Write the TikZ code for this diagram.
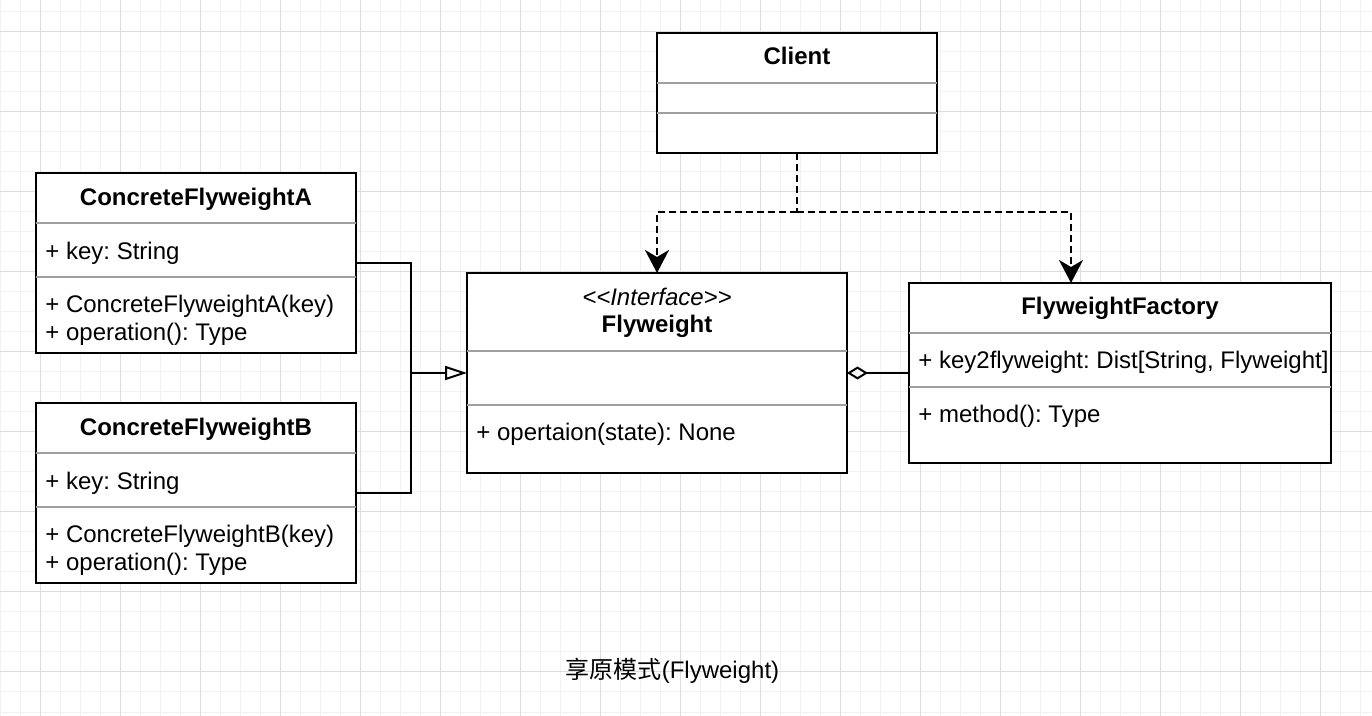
\documentclass[tikz,border=0pt]{standalone}
\usepackage{fontspec}
\setmainfont{Liberation Sans}
\newfontfamily\cjk{Noto Sans CJK SC}
\usetikzlibrary{arrows.meta}
\frenchspacing
\definecolor{gridminor}{HTML}{F2F2F2}
\definecolor{gridmajor}{HTML}{DCDCDC}
\definecolor{sepgray}{HTML}{A0A0A0}
\tikzset{
  umlbox/.style={draw=black, fill=white, line width=1pt, rectangle, inner sep=0pt, outer sep=0pt},
  septxt/.style={draw=sepgray, line width=1pt},
  lbl/.style={inner sep=0pt, anchor=base west, font=\fontsize{12pt}{14pt}\selectfont\frenchspacing},
  ttl/.style={inner sep=0pt, anchor=base, font=\fontsize{12pt}{14pt}\selectfont\bfseries},
  conn/.style={line width=1pt, draw=black},
  dep/.style={conn, dash pattern=on 3.5pt off 2pt},
}
\begin{document}
\begin{tikzpicture}[x=0.5pt,y=-0.5pt]
\useasboundingbox (0,0) rectangle (1372,716);
\fill[white] (0,0) rectangle (1372,716);
% grid
\foreach \x in {0,20,...,1370} \draw[gridminor, line width=0.5pt] (\x,0) -- (\x,716);
\foreach \y in {12,32,...,712} \draw[gridminor, line width=0.5pt] (0,\y) -- (1372,\y);
\foreach \x in {40,120,...,1370} \draw[gridmajor, line width=0.5pt] (\x,0) -- (\x,716);
\foreach \y in {32,112,...,712} \draw[gridmajor, line width=0.5pt] (0,\y) -- (1372,\y);

% boxes
\node[umlbox, minimum width=140pt, minimum height=60pt] (client) at (797,93) {};
\node[umlbox, minimum width=160pt, minimum height=90pt] (ca) at (196,263) {};
\node[umlbox, minimum width=160pt, minimum height=90pt] (cb) at (196,493) {};
\node[umlbox, minimum width=190pt, minimum height=100pt] (fw) at (657,373) {};
\node[umlbox, minimum width=211pt, minimum height=90pt] (factory) at (1120,373) {};

% separators
\foreach \b/\y in {client/83, client/113, ca/223, ca/277, cb/453, cb/507, fw/351, fw/405, factory/333, factory/387}
  \draw[septxt] (\b.west |- 0,\y) -- (\b.east |- 0,\y);

% texts: Client
\node[ttl] (tclient) at (797,65) {Client};
% ConcreteFlyweightA
\node[ttl] (tca) at (196,206) {ConcreteFlyweightA};
\node[lbl] (ca1) at (45,260) {+ key: String};
\node[lbl] (ca2) at (45,313) {+ ConcreteFlyweightA(key)};
\node[lbl] (ca3) at (45,341) {+ operation(): Type};
% ConcreteFlyweightB
\node[ttl] (tcb) at (196,436) {ConcreteFlyweightB};
\node[lbl] (cb1) at (45,490) {+ key: String};
\node[lbl] (cb2) at (45,543) {+ ConcreteFlyweightB(key)};
\node[lbl] (cb3) at (45,571) {+ operation(): Type};
% Flyweight
\node[inner sep=0pt, anchor=base, font=\fontsize{12pt}{14pt}\selectfont\itshape] (tfws) at (657,306) {<{}<Interface>{}>};
\node[ttl] (tfw) at (657,333) {Flyweight};
\node[lbl] (fw1) at (476,441) {+ opertaion(state): None};
% FlyweightFactory
\node[ttl] (tfac) at (1120,315) {FlyweightFactory};
\node[lbl] (fac1) at (918,369) {+ key2flyweight: Dist[String, Flyweight]};
\node[lbl] (fac2) at (918,423) {+ method(): Type};

% caption
\node[inner sep=0pt, anchor=base, font=\fontsize{12pt}{14pt}\selectfont] (cap) at (672.5,679) {{\cjk 享原模式}(Flyweight)};

% inheritance
\coordinate (m) at (411,373);
\draw[conn] (ca.east) -| (m);
\draw[conn] (cb.east) -| (m);
\draw[conn, -{Triangle[open, length=11pt, width=7pt]}] (m) -- (fw.west);

% aggregation
\draw[conn, {Diamond[open, length=10.5pt, width=6.5pt]}-] (fw.east) -- (factory.west);

% dependencies
\coordinate (j) at (797,212);
\draw[dep] (client.south) -- (j);
\draw[dep, -{Stealth[length=11.5pt, width=12pt, inset=3.5pt]}] (j) -| (fw.north);
\draw[dep, -{Stealth[length=11.5pt, width=12pt, inset=3.5pt]}] (j) -| ([xshift=-24.5pt]factory.north);
\end{tikzpicture}
\end{document}
